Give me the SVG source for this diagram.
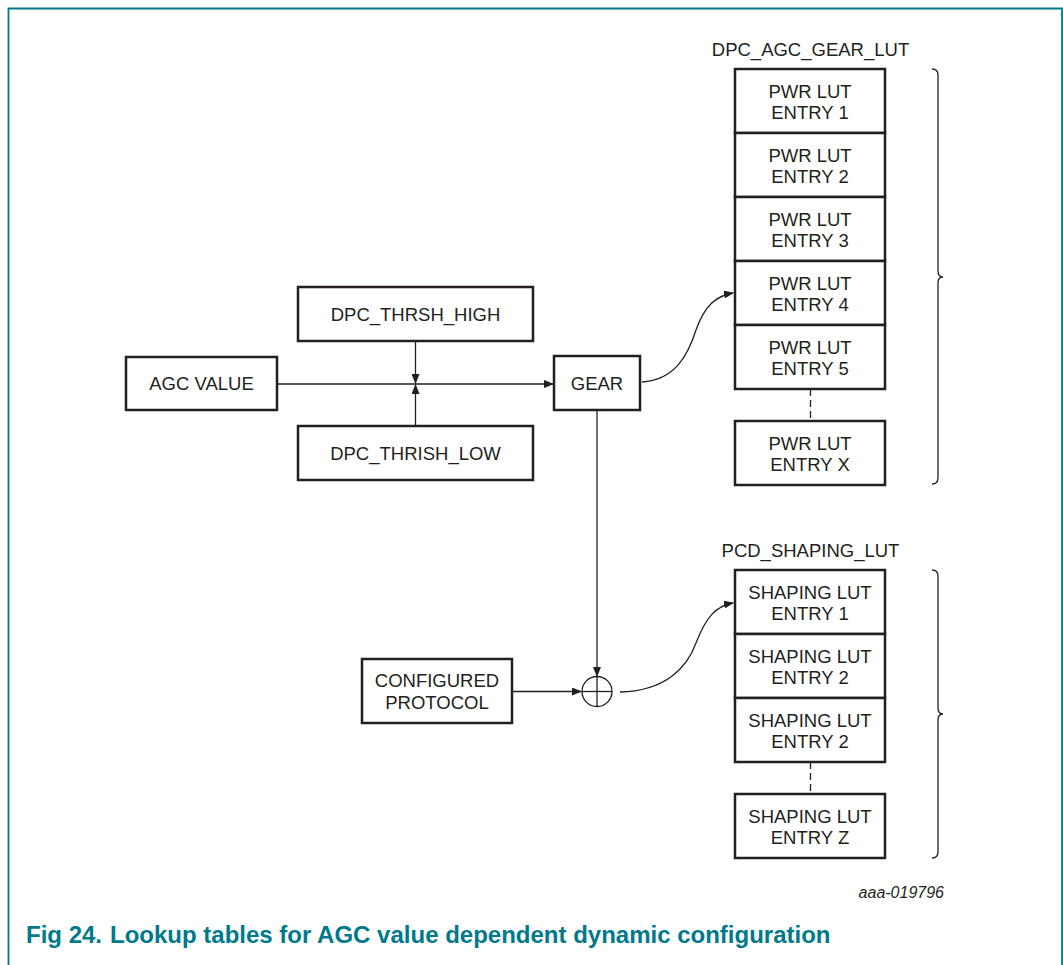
<svg xmlns="http://www.w3.org/2000/svg" width="1063" height="965" viewBox="0 0 1063 965">
<style>
.box{fill:#fff;stroke:#231f20;stroke-width:2.5}
.t{font-family:"Liberation Sans",Arial,sans-serif;font-size:18.5px;fill:#231f20;text-anchor:middle}
.ln{fill:none;stroke:#231f20;stroke-width:1.3}
.dash{fill:none;stroke:#231f20;stroke-width:1.3;stroke-dasharray:7 4}
.cap{font-family:"Liberation Sans",Arial,sans-serif;font-size:24px;font-weight:bold;fill:#00798c}
</style>
<defs>
<marker id="ah" markerWidth="10" markerHeight="8" refX="9" refY="4" orient="auto" markerUnits="userSpaceOnUse">
<path d="M0,0 L10,4 L0,8 Z" fill="#231f20"/>
</marker>
</defs>
<rect width="1063" height="965" fill="#fff"/>
<path d="M8.5,965 V8.5 H1062 V965" fill="none" stroke="#00798c" stroke-width="1.8"/>

<g id="connectors">
<line class="ln" x1="277" y1="384" x2="553" y2="384" marker-end="url(#ah)"/>
<line class="ln" x1="415.5" y1="342" x2="415.5" y2="383" marker-end="url(#ah)"/>
<line class="ln" x1="415.5" y1="425" x2="415.5" y2="385" marker-end="url(#ah)"/>
<line class="ln" x1="597" y1="411" x2="597" y2="676" marker-end="url(#ah)"/>
<line class="ln" x1="513" y1="691.5" x2="581" y2="691.5" marker-end="url(#ah)"/>
<path class="ln" d="M642,382 C675,380 688,355 696,330 C705,305 716,296 733,293" marker-end="url(#ah)"/>
<path class="ln" d="M620,692 C665,691 687,668 696,643 C706,617 716,606 733,603" marker-end="url(#ah)"/>
<line class="dash" x1="810.5" y1="389" x2="810.5" y2="421"/>
<line class="dash" x1="810.5" y1="762" x2="810.5" y2="794"/>
</g>

<g id="sum">
<circle cx="597" cy="691.5" r="15" fill="#fff" stroke="#231f20" stroke-width="1.3"/>
<line class="ln" x1="582" y1="691.5" x2="612" y2="691.5"/>
<line class="ln" x1="597" y1="676.5" x2="597" y2="706.5"/>
</g>

<g id="agc"><rect class="box" x="126" y="357" width="151" height="53"/><text class="t" x="201.5" y="390">AGC VALUE</text></g>
<g id="thr_high"><rect class="box" x="298" y="287" width="235" height="54"/><text class="t" x="415.5" y="320.5">DPC_THRSH_HIGH</text></g>
<g id="thr_low"><rect class="box" x="298" y="426" width="235" height="54"/><text class="t" x="415.5" y="459.5">DPC_THRISH_LOW</text></g>
<g id="gear"><rect class="box" x="554" y="356" width="86" height="54"/><text class="t" x="597" y="390">GEAR</text></g>
<g id="protocol"><rect class="box" x="362" y="659" width="150" height="64"/><text class="t" x="437" y="686.5">CONFIGURED</text><text class="t" x="437" y="708.5">PROTOCOL</text></g>

<g id="gear_lut">
<text class="t" x="810.5" y="56">DPC_AGC_GEAR_LUT</text>
<g id="pwr1"><rect class="box" x="735" y="69" width="150" height="64"/><text class="t" x="810" y="98">PWR LUT</text><text class="t" x="810" y="119">ENTRY 1</text></g>
<g id="pwr2"><rect class="box" x="735" y="133" width="150" height="64"/><text class="t" x="810" y="162">PWR LUT</text><text class="t" x="810" y="183">ENTRY 2</text></g>
<g id="pwr3"><rect class="box" x="735" y="197" width="150" height="64"/><text class="t" x="810" y="226">PWR LUT</text><text class="t" x="810" y="247">ENTRY 3</text></g>
<g id="pwr4"><rect class="box" x="735" y="261" width="150" height="64"/><text class="t" x="810" y="290">PWR LUT</text><text class="t" x="810" y="311">ENTRY 4</text></g>
<g id="pwr5"><rect class="box" x="735" y="325" width="150" height="64"/><text class="t" x="810" y="354">PWR LUT</text><text class="t" x="810" y="375">ENTRY 5</text></g>
<g id="pwrx"><rect class="box" x="735" y="421" width="150" height="64"/><text class="t" x="810" y="450">PWR LUT</text><text class="t" x="810" y="471">ENTRY X</text></g>
<path class="ln" d="M932,69 Q938,69 938,75 V271 Q938,277 943,277 Q938,277 938,283 V478 Q938,484 932,484"/>
</g>

<g id="shaping_lut">
<text class="t" x="810.5" y="557">PCD_SHAPING_LUT</text>
<g id="sh1"><rect class="box" x="735" y="570" width="150" height="64"/><text class="t" x="810" y="599">SHAPING LUT</text><text class="t" x="810" y="620">ENTRY 1</text></g>
<g id="sh2"><rect class="box" x="735" y="634" width="150" height="64"/><text class="t" x="810" y="663">SHAPING LUT</text><text class="t" x="810" y="684">ENTRY 2</text></g>
<g id="sh3"><rect class="box" x="735" y="698" width="150" height="64"/><text class="t" x="810" y="727">SHAPING LUT</text><text class="t" x="810" y="748">ENTRY 2</text></g>
<g id="shz"><rect class="box" x="735" y="794" width="150" height="64"/><text class="t" x="810" y="823">SHAPING LUT</text><text class="t" x="810" y="844">ENTRY Z</text></g>
<path class="ln" d="M932,570 Q938,570 938,576 V708 Q938,714 943,714 Q938,714 938,720 V852 Q938,858 932,858"/>
</g>

<text x="944" y="898" font-family="Liberation Sans,Arial,sans-serif" font-size="16" font-style="italic" fill="#231f20" text-anchor="end">aaa-019796</text>
<text class="cap" x="26" y="943">Fig 24.</text>
<text class="cap" x="110" y="943">Lookup tables for AGC value dependent dynamic configuration</text>
</svg>
